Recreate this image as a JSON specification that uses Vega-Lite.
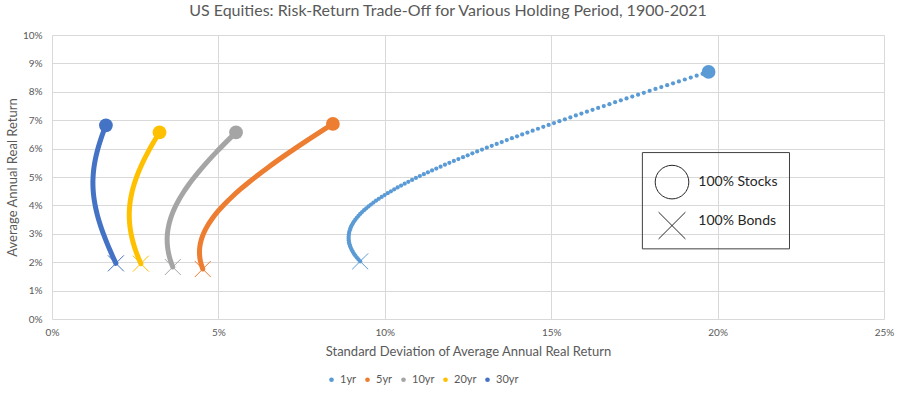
{
  "$schema": "https://vega.github.io/schema/vega-lite/v6.json",
  "width": 832,
  "height": 284,
  "autosize": {"type": "none"},
  "padding": {"left": 52, "top": 35, "right": 16, "bottom": 75},
  "background": "white",
  "title": {"text": "US Equities: Risk-Return Trade-Off for Various Holding Period, 1900-2021", "font": "Lato", "fontSize": 16, "fontWeight": "normal", "color": "#595959", "dx": -20, "offset": 11},
  "config": {
    "view": {"stroke": null},
    "font": "Lato",
    "axis": {"gridColor": "#D9D9D9", "gridWidth": 1, "domain": false, "ticks": false, "labelFlush": false, "labelOverlap": false, "labelColor": "#595959", "labelFontSize": 10, "labelFont": "Lato", "titleColor": "#595959", "titleFontSize": 13, "titleFontWeight": "normal", "titleFont": "Lato"},
    "legend": {"labelFont": "Lato", "labelFontSize": 11, "labelColor": "#595959"}
  },
  "datasets": {
    "curves": [
      {"p":"1yr","w":0,"sd":9.260,"ret":2.030},{"p":"1yr","w":1,"sd":9.208,"ret":2.097},{"p":"1yr","w":2,"sd":9.159,"ret":2.163},{"p":"1yr","w":3,"sd":9.115,"ret":2.230},{"p":"1yr","w":4,"sd":9.075,"ret":2.297},{"p":"1yr","w":5,"sd":9.039,"ret":2.364},{"p":"1yr","w":6,"sd":9.008,"ret":2.430},{"p":"1yr","w":7,"sd":8.980,"ret":2.497},{"p":"1yr","w":8,"sd":8.958,"ret":2.564},{"p":"1yr","w":9,"sd":8.940,"ret":2.630},
      {"p":"1yr","w":10,"sd":8.926,"ret":2.697},{"p":"1yr","w":11,"sd":8.917,"ret":2.764},{"p":"1yr","w":12,"sd":8.913,"ret":2.830},{"p":"1yr","w":13,"sd":8.913,"ret":2.897},{"p":"1yr","w":14,"sd":8.917,"ret":2.964},{"p":"1yr","w":15,"sd":8.926,"ret":3.031},{"p":"1yr","w":16,"sd":8.940,"ret":3.097},{"p":"1yr","w":17,"sd":8.958,"ret":3.164},{"p":"1yr","w":18,"sd":8.980,"ret":3.231},{"p":"1yr","w":19,"sd":9.007,"ret":3.297},
      {"p":"1yr","w":20,"sd":9.039,"ret":3.364},{"p":"1yr","w":21,"sd":9.074,"ret":3.431},{"p":"1yr","w":22,"sd":9.115,"ret":3.497},{"p":"1yr","w":23,"sd":9.159,"ret":3.564},{"p":"1yr","w":24,"sd":9.207,"ret":3.631},{"p":"1yr","w":25,"sd":9.260,"ret":3.698},{"p":"1yr","w":26,"sd":9.317,"ret":3.764},{"p":"1yr","w":27,"sd":9.377,"ret":3.831},{"p":"1yr","w":28,"sd":9.442,"ret":3.898},{"p":"1yr","w":29,"sd":9.510,"ret":3.964},
      {"p":"1yr","w":30,"sd":9.582,"ret":4.031},{"p":"1yr","w":31,"sd":9.658,"ret":4.098},{"p":"1yr","w":32,"sd":9.737,"ret":4.164},{"p":"1yr","w":33,"sd":9.820,"ret":4.231},{"p":"1yr","w":34,"sd":9.906,"ret":4.298},{"p":"1yr","w":35,"sd":9.995,"ret":4.365},{"p":"1yr","w":36,"sd":10.088,"ret":4.431},{"p":"1yr","w":37,"sd":10.184,"ret":4.498},{"p":"1yr","w":38,"sd":10.283,"ret":4.565},{"p":"1yr","w":39,"sd":10.385,"ret":4.631},
      {"p":"1yr","w":40,"sd":10.489,"ret":4.698},{"p":"1yr","w":41,"sd":10.597,"ret":4.765},{"p":"1yr","w":42,"sd":10.707,"ret":4.831},{"p":"1yr","w":43,"sd":10.820,"ret":4.898},{"p":"1yr","w":44,"sd":10.935,"ret":4.965},{"p":"1yr","w":45,"sd":11.053,"ret":5.032},{"p":"1yr","w":46,"sd":11.173,"ret":5.098},{"p":"1yr","w":47,"sd":11.295,"ret":5.165},{"p":"1yr","w":48,"sd":11.420,"ret":5.232},{"p":"1yr","w":49,"sd":11.547,"ret":5.298},
      {"p":"1yr","w":50,"sd":11.676,"ret":5.365},{"p":"1yr","w":51,"sd":11.807,"ret":5.432},{"p":"1yr","w":52,"sd":11.940,"ret":5.498},{"p":"1yr","w":53,"sd":12.075,"ret":5.565},{"p":"1yr","w":54,"sd":12.211,"ret":5.632},{"p":"1yr","w":55,"sd":12.350,"ret":5.699},{"p":"1yr","w":56,"sd":12.490,"ret":5.765},{"p":"1yr","w":57,"sd":12.631,"ret":5.832},{"p":"1yr","w":58,"sd":12.775,"ret":5.899},{"p":"1yr","w":59,"sd":12.920,"ret":5.965},
      {"p":"1yr","w":60,"sd":13.066,"ret":6.032},{"p":"1yr","w":61,"sd":13.214,"ret":6.099},{"p":"1yr","w":62,"sd":13.363,"ret":6.165},{"p":"1yr","w":63,"sd":13.514,"ret":6.232},{"p":"1yr","w":64,"sd":13.666,"ret":6.299},{"p":"1yr","w":65,"sd":13.819,"ret":6.366},{"p":"1yr","w":66,"sd":13.973,"ret":6.432},{"p":"1yr","w":67,"sd":14.128,"ret":6.499},{"p":"1yr","w":68,"sd":14.285,"ret":6.566},{"p":"1yr","w":69,"sd":14.443,"ret":6.632},
      {"p":"1yr","w":70,"sd":14.602,"ret":6.699},{"p":"1yr","w":71,"sd":14.762,"ret":6.766},{"p":"1yr","w":72,"sd":14.923,"ret":6.832},{"p":"1yr","w":73,"sd":15.084,"ret":6.899},{"p":"1yr","w":74,"sd":15.247,"ret":6.966},{"p":"1yr","w":75,"sd":15.411,"ret":7.033},{"p":"1yr","w":76,"sd":15.576,"ret":7.099},{"p":"1yr","w":77,"sd":15.741,"ret":7.166},{"p":"1yr","w":78,"sd":15.907,"ret":7.233},{"p":"1yr","w":79,"sd":16.074,"ret":7.299},
      {"p":"1yr","w":80,"sd":16.242,"ret":7.366},{"p":"1yr","w":81,"sd":16.411,"ret":7.433},{"p":"1yr","w":82,"sd":16.580,"ret":7.499},{"p":"1yr","w":83,"sd":16.750,"ret":7.566},{"p":"1yr","w":84,"sd":16.920,"ret":7.633},{"p":"1yr","w":85,"sd":17.092,"ret":7.700},{"p":"1yr","w":86,"sd":17.264,"ret":7.766},{"p":"1yr","w":87,"sd":17.436,"ret":7.833},{"p":"1yr","w":88,"sd":17.610,"ret":7.900},{"p":"1yr","w":89,"sd":17.783,"ret":7.966},
      {"p":"1yr","w":90,"sd":17.958,"ret":8.033},{"p":"1yr","w":91,"sd":18.133,"ret":8.100},{"p":"1yr","w":92,"sd":18.308,"ret":8.166},{"p":"1yr","w":93,"sd":18.484,"ret":8.233},{"p":"1yr","w":94,"sd":18.661,"ret":8.300},{"p":"1yr","w":95,"sd":18.837,"ret":8.367},{"p":"1yr","w":96,"sd":19.015,"ret":8.433},{"p":"1yr","w":97,"sd":19.193,"ret":8.500},{"p":"1yr","w":98,"sd":19.371,"ret":8.567},{"p":"1yr","w":99,"sd":19.550,"ret":8.633},
      {"p":"1yr","w":100,"sd":19.729,"ret":8.700},
      {"p":"5yr","w":0,"sd":4.530,"ret":1.760},{"p":"5yr","w":5,"sd":4.4634,"ret":2.016},{"p":"5yr","w":10,"sd":4.4331,"ret":2.271},{"p":"5yr","w":15,"sd":4.4399,"ret":2.527},{"p":"5yr","w":20,"sd":4.4837,"ret":2.782},{"p":"5yr","w":25,"sd":4.5634,"ret":3.038},{"p":"5yr","w":30,"sd":4.6771,"ret":3.293},{"p":"5yr","w":35,"sd":4.8224,"ret":3.549},{"p":"5yr","w":40,"sd":4.9966,"ret":3.804},{"p":"5yr","w":45,"sd":5.1968,"ret":4.060},{"p":"5yr","w":50,"sd":5.4201,"ret":4.315},{"p":"5yr","w":55,"sd":5.6638,"ret":4.571},{"p":"5yr","w":60,"sd":5.9253,"ret":4.826},{"p":"5yr","w":65,"sd":6.2024,"ret":5.082},{"p":"5yr","w":70,"sd":6.4931,"ret":5.337},{"p":"5yr","w":75,"sd":6.7956,"ret":5.593},{"p":"5yr","w":80,"sd":7.1086,"ret":5.848},{"p":"5yr","w":85,"sd":7.4305,"ret":6.104},{"p":"5yr","w":90,"sd":7.7603,"ret":6.359},{"p":"5yr","w":95,"sd":8.0971,"ret":6.615},{"p":"5yr","w":100,"sd":8.440,"ret":6.870},
      {"p":"10yr","w":0,"sd":3.630,"ret":1.830},{"p":"10yr","w":5,"sd":3.5575,"ret":2.067},{"p":"10yr","w":10,"sd":3.5043,"ret":2.304},{"p":"10yr","w":15,"sd":3.4716,"ret":2.541},{"p":"10yr","w":20,"sd":3.4597,"ret":2.778},{"p":"10yr","w":25,"sd":3.4690,"ret":3.015},{"p":"10yr","w":30,"sd":3.4993,"ret":3.252},{"p":"10yr","w":35,"sd":3.5500,"ret":3.489},{"p":"10yr","w":40,"sd":3.6203,"ret":3.726},{"p":"10yr","w":45,"sd":3.7091,"ret":3.963},{"p":"10yr","w":50,"sd":3.8150,"ret":4.200},{"p":"10yr","w":55,"sd":3.9367,"ret":4.437},{"p":"10yr","w":60,"sd":4.0728,"ret":4.674},{"p":"10yr","w":65,"sd":4.2218,"ret":4.911},{"p":"10yr","w":70,"sd":4.3826,"ret":5.148},{"p":"10yr","w":75,"sd":4.5537,"ret":5.385},{"p":"10yr","w":80,"sd":4.7342,"ret":5.622},{"p":"10yr","w":85,"sd":4.9229,"ret":5.859},{"p":"10yr","w":90,"sd":5.1190,"ret":6.096},{"p":"10yr","w":95,"sd":5.3216,"ret":6.333},{"p":"10yr","w":100,"sd":5.530,"ret":6.570},
      {"p":"20yr","w":0,"sd":2.670,"ret":1.950},{"p":"20yr","w":5,"sd":2.5866,"ret":2.181},{"p":"20yr","w":10,"sd":2.5131,"ret":2.412},{"p":"20yr","w":15,"sd":2.4504,"ret":2.643},{"p":"20yr","w":20,"sd":2.3993,"ret":2.874},{"p":"20yr","w":25,"sd":2.3605,"ret":3.105},{"p":"20yr","w":30,"sd":2.3348,"ret":3.336},{"p":"20yr","w":35,"sd":2.3225,"ret":3.567},{"p":"20yr","w":40,"sd":2.3239,"ret":3.798},{"p":"20yr","w":45,"sd":2.3389,"ret":4.029},{"p":"20yr","w":50,"sd":2.3673,"ret":4.260},{"p":"20yr","w":55,"sd":2.4085,"ret":4.491},{"p":"20yr","w":60,"sd":2.4620,"ret":4.722},{"p":"20yr","w":65,"sd":2.5270,"ret":4.953},{"p":"20yr","w":70,"sd":2.6026,"ret":5.184},{"p":"20yr","w":75,"sd":2.6879,"ret":5.415},{"p":"20yr","w":80,"sd":2.7820,"ret":5.646},{"p":"20yr","w":85,"sd":2.8840,"ret":5.877},{"p":"20yr","w":90,"sd":2.9933,"ret":6.108},{"p":"20yr","w":95,"sd":3.1089,"ret":6.339},{"p":"20yr","w":100,"sd":3.2302,"ret":6.570},
      {"p":"30yr","w":0,"sd":1.920,"ret":1.960},{"p":"30yr","w":5,"sd":1.8245,"ret":2.203},{"p":"30yr","w":10,"sd":1.7331,"ret":2.446},{"p":"30yr","w":15,"sd":1.6464,"ret":2.689},{"p":"30yr","w":20,"sd":1.5651,"ret":2.932},{"p":"30yr","w":25,"sd":1.4901,"ret":3.175},{"p":"30yr","w":30,"sd":1.4225,"ret":3.418},{"p":"30yr","w":35,"sd":1.3632,"ret":3.661},{"p":"30yr","w":40,"sd":1.3135,"ret":3.904},{"p":"30yr","w":45,"sd":1.2744,"ret":4.147},{"p":"30yr","w":50,"sd":1.2470,"ret":4.390},{"p":"30yr","w":55,"sd":1.2320,"ret":4.633},{"p":"30yr","w":60,"sd":1.2300,"ret":4.876},{"p":"30yr","w":65,"sd":1.2409,"ret":5.119},{"p":"30yr","w":70,"sd":1.2644,"ret":5.362},{"p":"30yr","w":75,"sd":1.2998,"ret":5.605},{"p":"30yr","w":80,"sd":1.3463,"ret":5.848},{"p":"30yr","w":85,"sd":1.4026,"ret":6.091},{"p":"30yr","w":90,"sd":1.4677,"ret":6.334},{"p":"30yr","w":95,"sd":1.5405,"ret":6.577},{"p":"30yr","w":100,"sd":1.6199,"ret":6.820}
    ],
    "key": [
      {"label": "100% Stocks", "sd": 19.42, "ret": 4.82},
      {"label": "100% Bonds", "sd": 19.42, "ret": 3.45}
    ]
  },
  "data": {"name": "curves"},
  "layer": [
    {
      "transform": [{"filter": "datum.p != '1yr'"}],
      "mark": {"type": "line", "strokeWidth": 5, "strokeCap": "round", "strokeJoin": "round", "interpolate": "catmull-rom"},
      "encoding": {
        "x": {"field": "sd", "type": "quantitative", "scale": {"domain": [0, 25], "nice": false}, "axis": {"values": [0, 5, 10, 15, 20, 25], "labelExpr": "datum.value + '%'", "labelPadding": 8, "titlePadding": 8, "grid": true}, "title": "Standard Deviation of Average Annual Real Return"},
        "y": {"field": "ret", "type": "quantitative", "scale": {"domain": [0, 10], "nice": false}, "axis": {"values": [0, 1, 2, 3, 4, 5, 6, 7, 8, 9, 10], "labelExpr": "datum.value + '%'", "labelPadding": 10, "titlePadding": 3, "grid": true}, "title": "Average Annual Real Return"},
        "color": {"field": "p", "type": "nominal", "scale": {"domain": ["1yr", "5yr", "10yr", "20yr", "30yr"], "range": ["#5B9BD5", "#ED7D31", "#A5A5A5", "#FFC000", "#4472C4"]}, "legend": {"title": null, "orient": "none", "direction": "horizontal", "legendX": 274, "legendY": 339, "symbolType": "circle", "symbolSize": 22, "symbolStrokeWidth": 0, "labelOffset": 3, "columnPadding": 5}},
        "order": {"field": "w", "type": "quantitative"}
      }
    },
    {
      "transform": [{"filter": "datum.p == '1yr'"}],
      "mark": {"type": "point", "shape": "circle", "filled": true, "size": 18, "opacity": 1},
      "encoding": {
        "x": {"field": "sd", "type": "quantitative", "axis": {"values": [0, 5, 10, 15, 20, 25], "labelExpr": "datum.value + '%'", "labelPadding": 8, "titlePadding": 8, "grid": true}, "title": "Standard Deviation of Average Annual Real Return"},
        "y": {"field": "ret", "type": "quantitative", "axis": {"values": [0, 1, 2, 3, 4, 5, 6, 7, 8, 9, 10], "labelExpr": "datum.value + '%'", "labelPadding": 10, "titlePadding": 3, "grid": true}, "title": "Average Annual Real Return"},
        "color": {"field": "p", "type": "nominal", "legend": {"title": null, "orient": "none", "direction": "horizontal", "legendX": 274, "legendY": 339, "symbolType": "circle", "symbolSize": 22, "symbolStrokeWidth": 0, "labelOffset": 3, "columnPadding": 5}}
      }
    },
    {
      "transform": [{"filter": "datum.w == 100"}],
      "mark": {"type": "point", "shape": "circle", "filled": true, "size": 190, "opacity": 1},
      "encoding": {
        "x": {"field": "sd", "type": "quantitative", "axis": {"values": [0, 5, 10, 15, 20, 25], "labelExpr": "datum.value + '%'", "labelPadding": 8, "titlePadding": 8, "grid": true}, "title": "Standard Deviation of Average Annual Real Return"},
        "y": {"field": "ret", "type": "quantitative", "axis": {"values": [0, 1, 2, 3, 4, 5, 6, 7, 8, 9, 10], "labelExpr": "datum.value + '%'", "labelPadding": 10, "titlePadding": 3, "grid": true}, "title": "Average Annual Real Return"},
        "color": {"field": "p", "type": "nominal", "legend": {"title": null, "orient": "none", "direction": "horizontal", "legendX": 274, "legendY": 339, "symbolType": "circle", "symbolSize": 22, "symbolStrokeWidth": 0, "labelOffset": 3, "columnPadding": 5}}
      }
    },
    {
      "transform": [{"filter": "datum.w == 0"}],
      "mark": {"type": "point", "shape": "M-1,-1L1,1M1,-1L-1,1", "filled": false, "size": 256, "strokeWidth": 1, "opacity": 1},
      "encoding": {
        "x": {"field": "sd", "type": "quantitative", "axis": {"values": [0, 5, 10, 15, 20, 25], "labelExpr": "datum.value + '%'", "labelPadding": 8, "titlePadding": 8, "grid": true}, "title": "Standard Deviation of Average Annual Real Return"},
        "y": {"field": "ret", "type": "quantitative", "axis": {"values": [0, 1, 2, 3, 4, 5, 6, 7, 8, 9, 10], "labelExpr": "datum.value + '%'", "labelPadding": 10, "titlePadding": 3, "grid": true}, "title": "Average Annual Real Return"},
        "color": {"field": "p", "type": "nominal", "legend": {"title": null, "orient": "none", "direction": "horizontal", "legendX": 274, "legendY": 339, "symbolType": "circle", "symbolSize": 22, "symbolStrokeWidth": 0, "labelOffset": 3, "columnPadding": 5}}
      }
    },
    {
      "data": {"values": [{"item": "box"}]},
      "mark": {"type": "rect", "filled": false, "stroke": "#404040", "strokeWidth": 1},
      "encoding": {
        "x": {"datum": 17.74, "type": "quantitative", "axis": {"values": [0, 5, 10, 15, 20, 25], "labelExpr": "datum.value + '%'", "labelPadding": 8, "titlePadding": 8, "grid": true}, "title": "Standard Deviation of Average Annual Real Return"},
        "x2": {"datum": 22.16},
        "y": {"datum": 5.86, "type": "quantitative", "axis": {"values": [0, 1, 2, 3, 4, 5, 6, 7, 8, 9, 10], "labelExpr": "datum.value + '%'", "labelPadding": 10, "titlePadding": 3, "grid": true}, "title": "Average Annual Real Return"},
        "y2": {"datum": 2.47}
      }
    },
    {
      "data": {"values": [{"item": "stocks"}]},
      "mark": {"type": "point", "shape": "circle", "filled": false, "stroke": "#262626", "strokeWidth": 1, "size": 1130, "opacity": 1},
      "encoding": {
        "x": {"datum": 18.63, "type": "quantitative", "axis": {"values": [0, 5, 10, 15, 20, 25], "labelExpr": "datum.value + '%'", "labelPadding": 8, "titlePadding": 8, "grid": true}, "title": "Standard Deviation of Average Annual Real Return"},
        "y": {"datum": 4.82, "type": "quantitative", "axis": {"values": [0, 1, 2, 3, 4, 5, 6, 7, 8, 9, 10], "labelExpr": "datum.value + '%'", "labelPadding": 10, "titlePadding": 3, "grid": true}, "title": "Average Annual Real Return"}
      }
    },
    {
      "data": {"values": [{"item": "bonds"}]},
      "mark": {"type": "point", "shape": "M-1,-1L1,1M1,-1L-1,1", "filled": false, "stroke": "#262626", "strokeWidth": 1, "size": 720, "opacity": 1},
      "encoding": {
        "x": {"datum": 18.63, "type": "quantitative", "axis": {"values": [0, 5, 10, 15, 20, 25], "labelExpr": "datum.value + '%'", "labelPadding": 8, "titlePadding": 8, "grid": true}, "title": "Standard Deviation of Average Annual Real Return"},
        "y": {"datum": 3.29, "type": "quantitative", "axis": {"values": [0, 1, 2, 3, 4, 5, 6, 7, 8, 9, 10], "labelExpr": "datum.value + '%'", "labelPadding": 10, "titlePadding": 3, "grid": true}, "title": "Average Annual Real Return"}
      }
    },
    {
      "data": {"name": "key"},
      "mark": {"type": "text", "align": "left", "baseline": "middle", "font": "Lato", "fontSize": 14, "color": "#262626"},
      "encoding": {
        "x": {"field": "sd", "type": "quantitative", "axis": {"values": [0, 5, 10, 15, 20, 25], "labelExpr": "datum.value + '%'", "labelPadding": 8, "titlePadding": 8, "grid": true}, "title": "Standard Deviation of Average Annual Real Return"},
        "y": {"field": "ret", "type": "quantitative", "axis": {"values": [0, 1, 2, 3, 4, 5, 6, 7, 8, 9, 10], "labelExpr": "datum.value + '%'", "labelPadding": 10, "titlePadding": 3, "grid": true}, "title": "Average Annual Real Return"},
        "text": {"field": "label"}
      }
    }
  ]
}
